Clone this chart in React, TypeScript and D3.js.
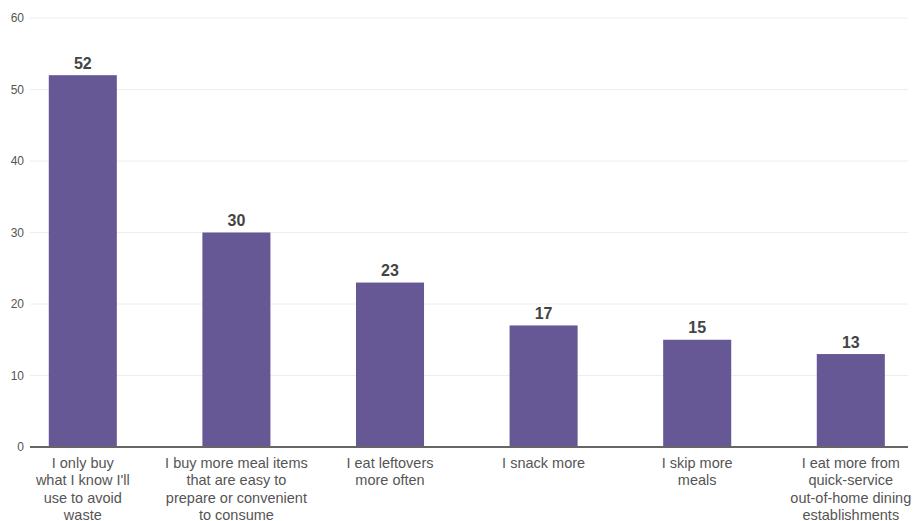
import React from "react";
import * as d3 from "d3";

const categories: string[][] = [
  ["I only buy", "what I know I'll", "use to avoid", "waste"],
  ["I buy more meal items", "that are easy to", "prepare or convenient", "to consume"],
  ["I eat leftovers", "more often"],
  ["I snack more"],
  ["I skip more", "meals"],
  ["I eat more from", "quick-service", "out-of-home dining", "establishments"],
];
const values: number[] = [52, 30, 23, 17, 15, 13];
const yTicks: number[] = [0, 10, 20, 30, 40, 50, 60];

const W = 914;
const H = 521;
const font = "'Liberation Sans', Arial, sans-serif";

export default function App() {
  const ids = categories.map((_, i) => String(i));
  const x = d3.scaleBand<string>().domain(ids).range([6, 927.6]).paddingInner(0.557).paddingOuter(0.2785);
  const y = d3.scaleLinear().domain([0, 60]).range([447, 18]);
  return (
    <svg width={W} height={H} style={{ position: "absolute", left: 0, top: 0 }} fontFamily={font}>
      {yTicks.map((t) => (
        <g key={t}>
          {t > 0 && <line x1={30} x2={908} y1={y(t)} y2={y(t)} stroke="#eeeeee" strokeWidth={1} />}
          <text x={24} y={y(t)} dy="0.35em" textAnchor="end" fontSize={12} fill="#555">{t}</text>
        </g>
      ))}
      {values.map((v, i) => (
        <g key={i}>
          <rect x={x(ids[i])} y={y(v)} width={x.bandwidth()} height={y(0) - y(v)} fill="#665894" />
          <text x={(x(ids[i]) as number) + x.bandwidth() / 2} y={y(v) - 6.5} textAnchor="middle" fontSize={16} fontWeight="bold" fill="#444">{v}</text>
        </g>
      ))}
      <line x1={30} x2={908} y1={y(0)} y2={y(0)} stroke="#666" strokeWidth={2} />
      {categories.map((lines, i) => (
        <text key={i} x={(x(ids[i]) as number) + x.bandwidth() / 2} y={468} textAnchor="middle" fontSize={14.5} fill="#555">
          {lines.map((l, j) => (
            <tspan key={j} x={(x(ids[i]) as number) + x.bandwidth() / 2} dy={j === 0 ? 0 : 17.3}>{l}</tspan>
          ))}
        </text>
      ))}
    </svg>
  );
}
